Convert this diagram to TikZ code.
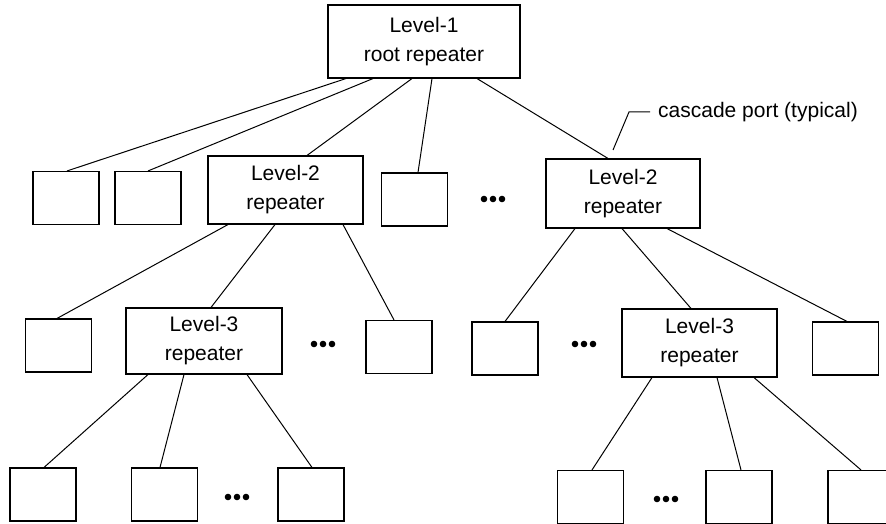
\documentclass[tikz,border=0pt]{standalone}
\usepackage{fontspec}
\setmainfont{Liberation Sans}
\begin{document}
\begin{tikzpicture}[x=1pt,y=-1pt,
  every node/.style={font=\fontsize{21}{29}\selectfont},
  unit/.style={draw, line width=1.1pt, inner sep=0pt, align=center},
  repeater/.style={unit},
  port/.style={unit, minimum width=66pt, minimum height=53pt},
  link/.style={line width=1pt},
  dotrow/.pic={\foreach \dx in {-9,0,9} \fill (\dx,0) circle (3.3pt);}
]
\useasboundingbox (0,0) rectangle (886,524);

% level 1
\node[repeater, minimum width=192pt, minimum height=73pt] (root) at (424,41.5) {Level-1\\root repeater};

% level 2 row
\node[port] (a) at (66,198) {};
\node[port] (b) at (148,198) {};
\node[repeater, minimum width=155pt, minimum height=68pt] (l2l) at (285.5,190) {Level-2\\repeater};
\node[port] (c) at (414.5,199.5) {};
\pic at (493,199) {dotrow};
\node[repeater, minimum width=154pt, minimum height=69pt] (l2r) at (623,193.5) {Level-2\\repeater};

% level 3 row
\node[port] (d) at (58.5,345.5) {};
\node[repeater, minimum width=156pt, minimum height=66pt] (l3l) at (204,341) {Level-3\\repeater};
\pic at (323,344) {dotrow};
\node[port] (e) at (399,347) {};
\node[port] (i) at (505,348.5) {};
\pic at (584,344) {dotrow};
\node[repeater, minimum width=155pt, minimum height=68pt] (l3r) at (699.5,343) {Level-3\\repeater};
\node[port] (j) at (845.5,348.5) {};

% bottom row
\node[port] (f) at (43,494.5) {};
\node[port] (g) at (164.5,494.5) {};
\pic at (237,497) {dotrow};
\node[port] (h) at (311,494.5) {};
\node[port] (k) at (590.5,497) {};
\pic at (666,499) {dotrow};
\node[port] (l) at (739,497) {};
\node[port] (m) at (861,497) {};

% links from the root
\draw[link] ([xshift=-78pt]root.south) -- ([xshift=1pt]a.north);
\draw[link] ([xshift=-51pt]root.south) -- (b.north);
\draw[link] ([xshift=-12pt]root.south) -- ([xshift=21.5pt]l2l.north);
\draw[link] ([xshift=8pt]root.south) -- ([xshift=3.5pt]c.north);
\draw[link] ([xshift=53pt]root.south) -- ([xshift=-15pt]l2r.north);

% links from the left level-2 repeater
\draw[link] ([xshift=-57.5pt]l2l.south) -- ([xshift=-1.5pt]d.north);
\draw[link] ([xshift=-10.5pt]l2l.south) -- ([xshift=7pt]l3l.north);
\draw[link] ([xshift=57.5pt]l2l.south) -- ([xshift=-5pt]e.north);

% links from the right level-2 repeater
\draw[link] ([xshift=-48pt]l2r.south) -- (i.north);
\draw[link] ([xshift=-1pt]l2r.south) -- ([xshift=-8.5pt]l3r.north);
\draw[link] ([xshift=44pt]l2r.south) -- ([xshift=1.5pt]j.north);

% links from the level-3 repeaters
\draw[link] ([xshift=-56pt]l3l.south) -- ([xshift=1pt]f.north);
\draw[link] ([xshift=-20pt]l3l.south) -- ([xshift=-4.5pt]g.north);
\draw[link] ([xshift=43pt]l3l.south) -- ([xshift=1pt]h.north);
\draw[link] ([xshift=-47.5pt]l3r.south) -- ([xshift=1.5pt]k.north);
\draw[link] ([xshift=17.5pt]l3r.south) -- ([xshift=2pt]l.north);
\draw[link] ([xshift=54.5pt]l3r.south) -- (m.north);

% callout
\coordinate (cp) at (613,150);
\node[anchor=west, inner sep=0pt] (cascade) at (658,112) {cascade port (typical)};
\draw[link] (cp) -- (629,112) -- ([xshift=-8pt]cascade.west);
\end{tikzpicture}
\end{document}
